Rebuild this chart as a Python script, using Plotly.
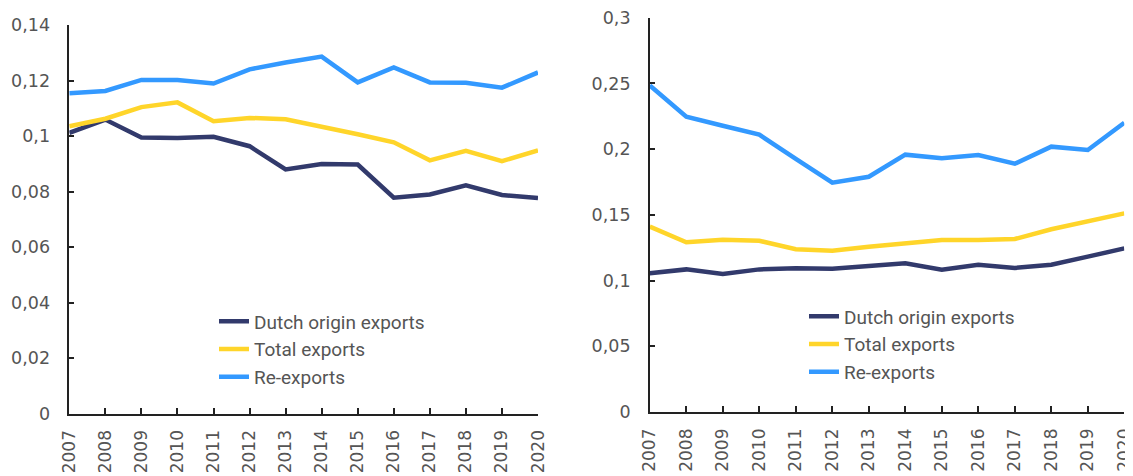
import plotly.graph_objects as go

years = list(range(2007, 2021))
year_labels = [str(y) for y in years]

# Left panel
left_dutch = [0.1012, 0.1060, 0.0995, 0.0994, 0.0998, 0.0964, 0.0880, 0.0900,
              0.0898, 0.0778, 0.0790, 0.0823, 0.0788, 0.0777]
left_total = [0.1036, 0.1063, 0.1105, 0.1122, 0.1054, 0.1066, 0.1061, 0.1036,
              0.1007, 0.0978, 0.0913, 0.0947, 0.0910, 0.0949]
left_reexp = [0.1155, 0.1163, 0.1203, 0.1203, 0.1190, 0.1241, 0.1266, 0.1287,
              0.1194, 0.1248, 0.1194, 0.1193, 0.1175, 0.1230]

# Right panel
right_dutch = [0.1055, 0.1085, 0.1050, 0.1085, 0.1093, 0.1090, 0.1111, 0.1131,
               0.1083, 0.1121, 0.1096, 0.1121, 0.1182, 0.1245]
right_total = [0.1410, 0.1291, 0.1311, 0.1303, 0.1238, 0.1227, 0.1258, 0.1283,
               0.1309, 0.1309, 0.1316, 0.1390, 0.1451, 0.1511]
right_reexp = [0.2485, 0.2247, 0.2178, 0.2110, 0.1925, 0.1745, 0.1790, 0.1958,
               0.1930, 0.1955, 0.1889, 0.2019, 0.1993, 0.2201]

left_ticks = [0, 0.02, 0.04, 0.06, 0.08, 0.10, 0.12, 0.14]
left_ticktext = ["0", "0,02", "0,04", "0,06", "0,08", "0,1", "0,12", "0,14"]
right_ticks = [0, 0.05, 0.10, 0.15, 0.20, 0.25, 0.30]
right_ticktext = ["0", "0,05", "0,1", "0,15", "0,2", "0,25", "0,3"]

series_names = ["Dutch origin exports", "Total exports", "Re-exports"]
colors = ["#323a6c", "#ffd52a", "#3399ff"]

TICK_FONT = "DejaVu Sans"
LEGEND_FONT = "Roboto"
TICK_COLOR = "#555555"
AXIS_COLOR = "#222222"

# The page body has an 8px margin, so the figure starts at (8, 8)
OFF = 8
W, H = 1133 - OFF, 476 - OFF

fig = go.Figure()

for name, vals, col in zip(series_names, [left_dutch, left_total, left_reexp], colors):
    fig.add_trace(go.Scatter(x=years, y=vals, mode="lines", name=name,
                             line=dict(color=col, width=4.5),
                             xaxis="x", yaxis="y", legend="legend"))
for name, vals, col in zip(series_names, [right_dutch, right_total, right_reexp], colors):
    fig.add_trace(go.Scatter(x=years, y=vals, mode="lines", name=name,
                             line=dict(color=col, width=4.5),
                             xaxis="x2", yaxis="y2", legend="legend2"))

def px_x(p):
    return (p - OFF) / W

def px_y(p):
    return 1 - (p - OFF) / H

xcommon = dict(
    tickmode="array", tickvals=years, ticktext=year_labels,
    range=[2007, 2020], tickangle=-90, automargin=False,
    ticklabeloverflow="allow", ticklabelstandoff=8,
    ticks="inside", ticklen=6, tickcolor=AXIS_COLOR, tickwidth=1.5,
    showline=True, linecolor=AXIS_COLOR, linewidth=1.5,
    showgrid=False, zeroline=False,
    tickfont=dict(family=TICK_FONT, size=17, color=TICK_COLOR),
)
ycommon = dict(
    tickmode="array", automargin=False,
    ticklabeloverflow="allow", ticklabelstandoff=14,
    ticks="inside", ticklen=5, tickcolor=AXIS_COLOR, tickwidth=1.5,
    showline=True, linecolor=AXIS_COLOR, linewidth=1.5,
    showgrid=False, zeroline=False,
    tickfont=dict(family=TICK_FONT, size=17.5, color=TICK_COLOR),
)

legend_common = dict(
    bgcolor="rgba(0,0,0,0)", borderwidth=0,
    font=dict(family=LEGEND_FONT, size=19, color="#555555"),
    xanchor="left", yanchor="top", tracegroupgap=0,
)

fig.update_layout(
    template="none",
    width=W, height=H,
    margin=dict(l=0, r=0, t=0, b=0, pad=0),
    paper_bgcolor="white", plot_bgcolor="white",
    showlegend=True,
    xaxis=dict(domain=[px_x(69.3), px_x(538)], anchor="y", **xcommon),
    yaxis=dict(domain=[px_y(413.5), px_y(25.3)], anchor="x", range=[0, 0.14],
               tickvals=left_ticks, ticktext=left_ticktext, **ycommon),
    xaxis2=dict(domain=[px_x(649.8), px_x(1124.3)], anchor="y2", **xcommon),
    yaxis2=dict(domain=[px_y(412), px_y(17.7)], anchor="x2", range=[0, 0.3],
                tickvals=right_ticks, ticktext=right_ticktext, **ycommon),
    legend=dict(x=px_x(214), y=px_y(302.5), **legend_common),
    legend2=dict(x=px_x(804), y=px_y(297.5), **legend_common),
)

fig.write_html("out.html")
